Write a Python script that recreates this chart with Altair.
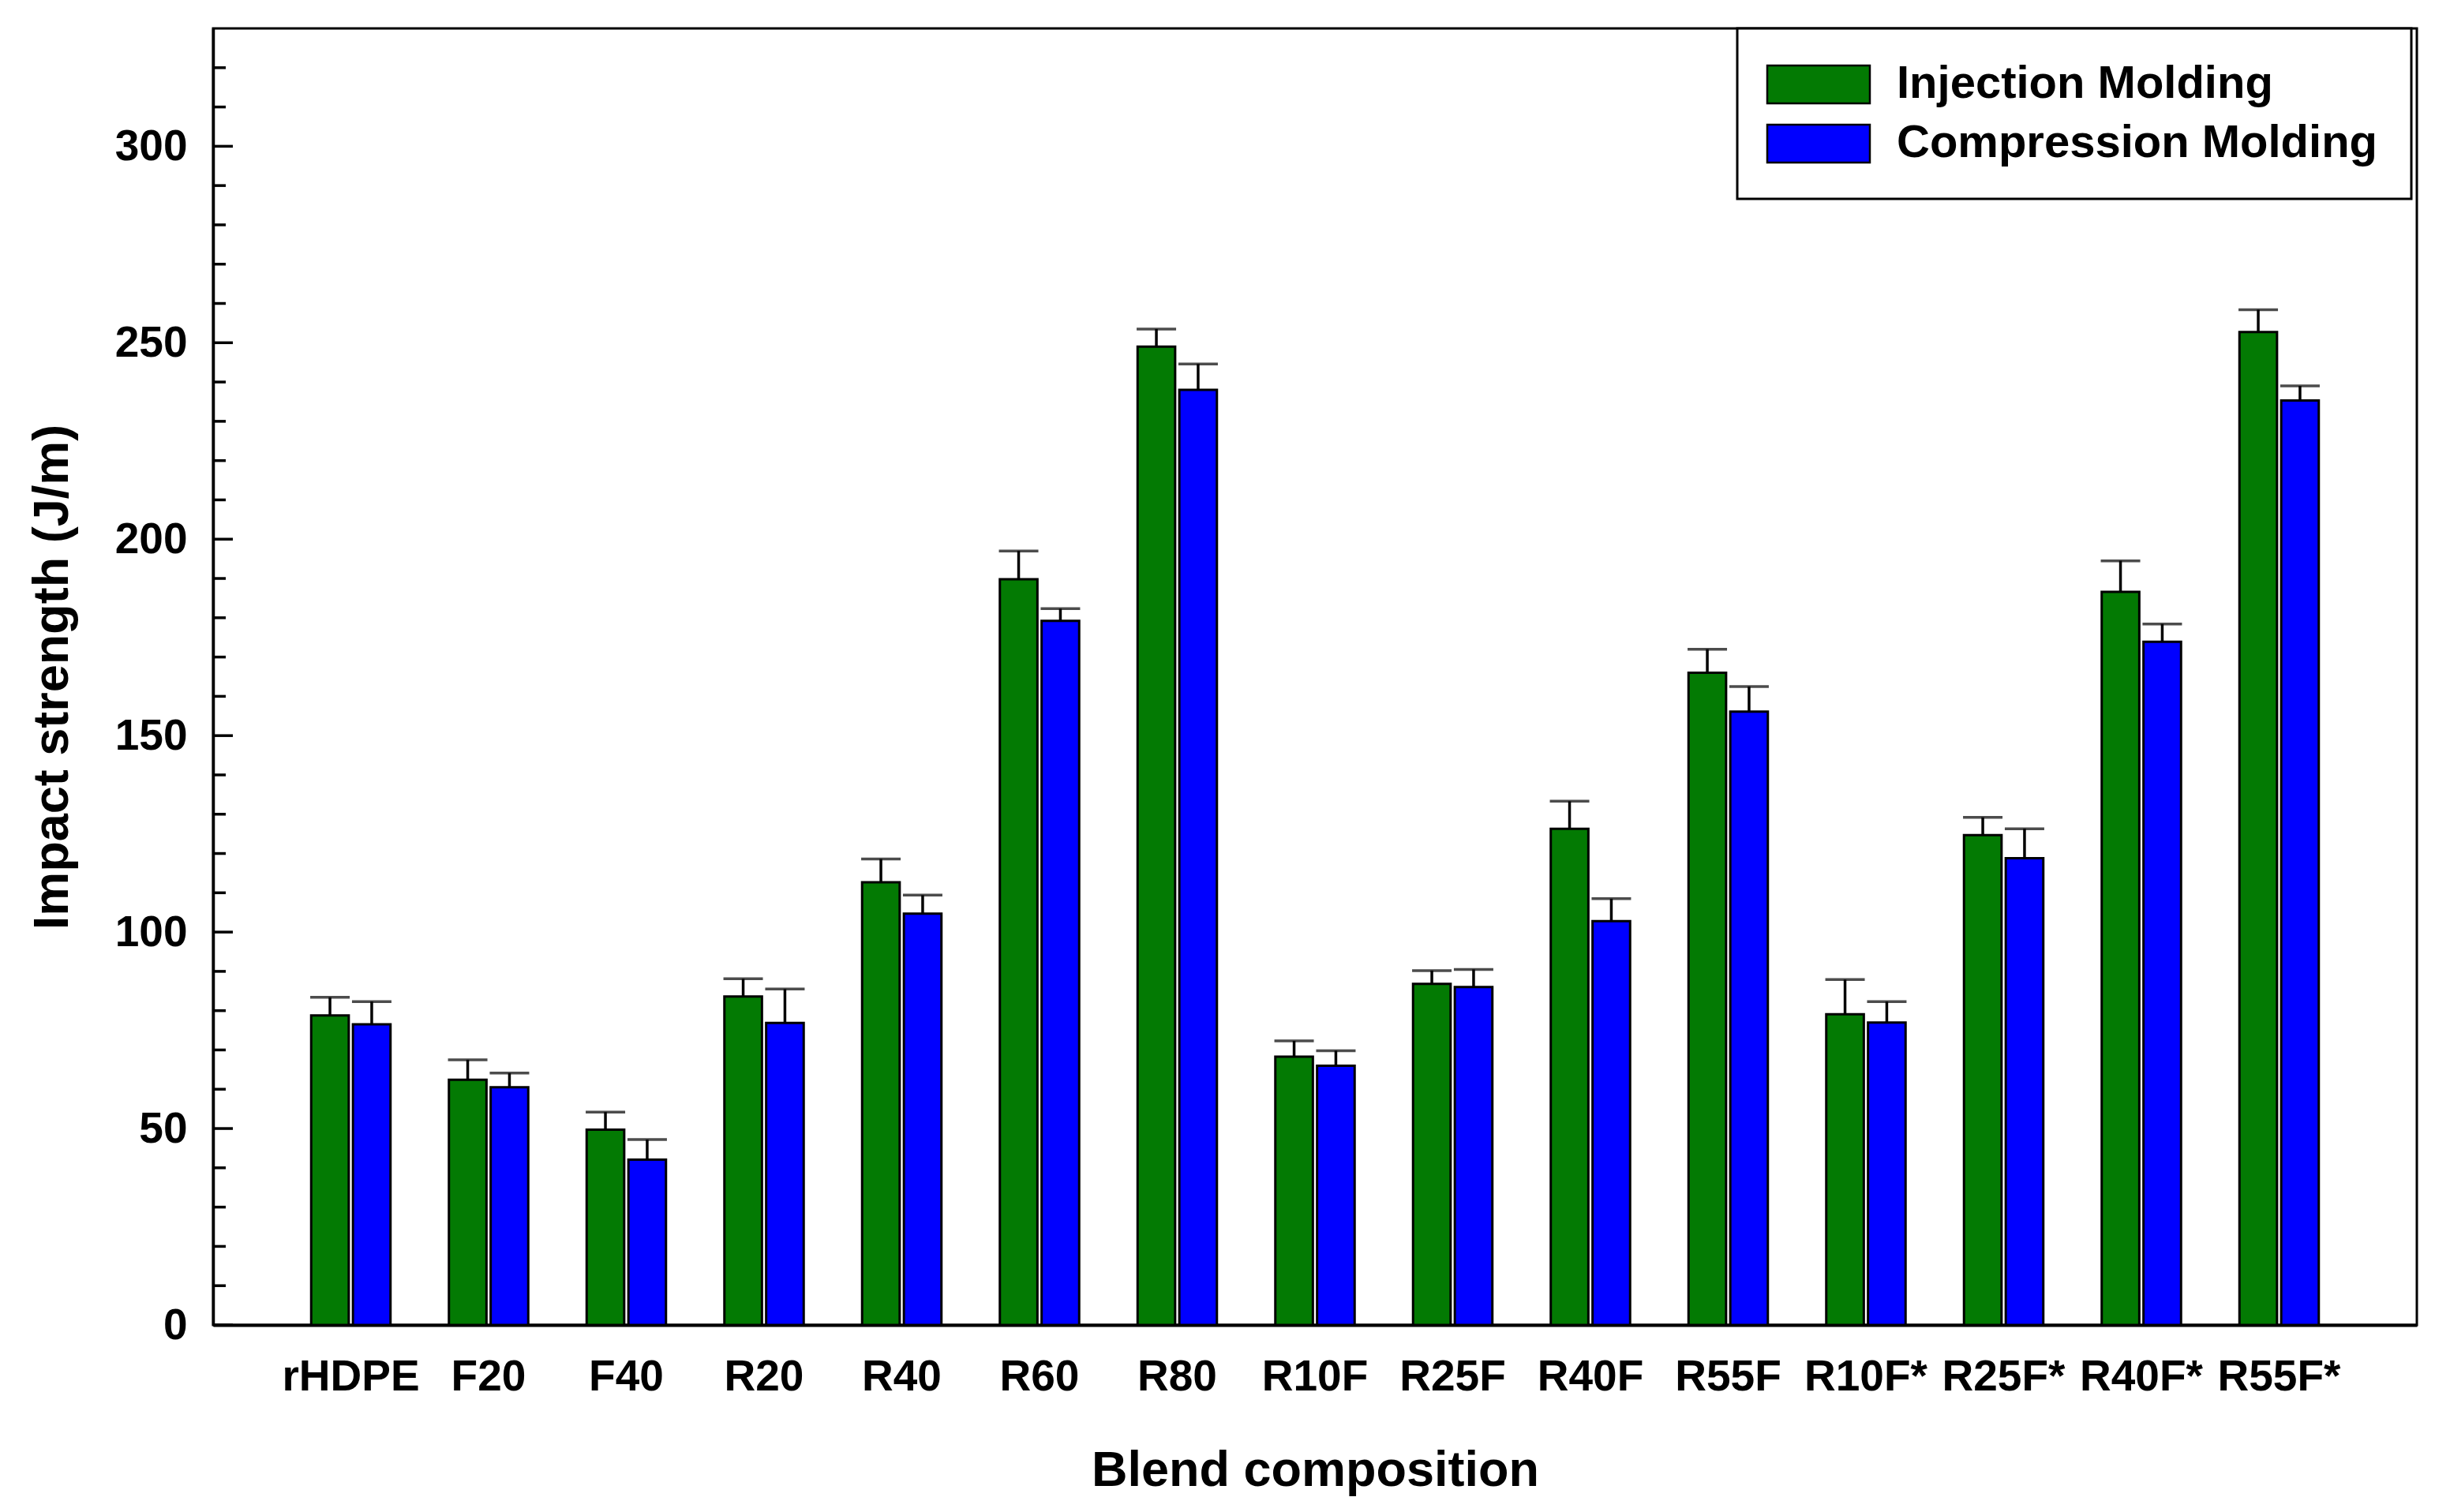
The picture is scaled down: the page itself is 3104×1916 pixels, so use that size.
import altair as alt
import pandas as pd

categories = ["rHDPE", "F20", "F40", "R20", "R40", "R60", "R80", "R10F", "R25F",
              "R40F", "R55F", "R10F*", "R25F*", "R40F*", "R55F*"]
series_names = ["Injection Molding", "Compression Molding"]
injection = [78.8, 62.4, 49.7, 83.6, 112.7, 189.8, 249.0, 68.3, 86.8, 126.3, 166.0, 79.1, 124.7, 186.6, 252.7]
injection_err = [4.6, 5.1, 4.5, 4.5, 5.9, 7.2, 4.5, 4.0, 3.4, 7.0, 6.0, 8.8, 4.5, 7.9, 5.7]
compression = [76.5, 60.5, 42.1, 76.9, 104.7, 179.2, 238.0, 66.0, 86.0, 102.8, 156.1, 77.0, 118.8, 173.9, 235.3]
compression_err = [5.8, 3.6, 5.1, 8.6, 4.7, 3.1, 6.6, 3.8, 4.5, 5.7, 6.4, 5.3, 7.5, 4.5, 3.7]
colors = ["#037A03", "#0000FF"]
y_labels = [0, 50, 100, 150, 200, 250, 300]
major_ticks = [0, 50, 100, 150, 200, 250, 300]
minor_ticks = [v for v in range(10, 330, 10) if v % 50 != 0]

rows = []
for i, c in enumerate(categories):
    rows.append(dict(cat=c, series=series_names[0], value=injection[i], top=injection[i] + injection_err[i]))
    rows.append(dict(cat=c, series=series_names[1], value=compression[i], top=compression[i] + compression_err[i]))
df = pd.DataFrame(rows)

W, H = 2792, 1643
FONT = "Liberation Sans"

xscale = alt.Scale(domain=categories, paddingInner=0.424, paddingOuter=0.712)
yscale = alt.Scale(domain=[0, 330], nice=False, zero=True)
off = alt.XOffset("series:N", scale=alt.Scale(domain=series_names, paddingInner=0.1), sort=series_names)
color = alt.Color("series:N", scale=alt.Scale(domain=series_names, range=colors), legend=None)

x_axis = alt.Axis(title="Blend composition", labelAngle=0, ticks=False, tickSize=0,
                  labelFont=FONT, labelFontSize=55, labelFontWeight="bold", labelColor="black",
                  labelPadding=39, titleFont=FONT, titleFontSize=63, titleFontWeight="bold",
                  titleColor="black", titleY=184, titleBaseline="middle",
                  domainColor="black", domainWidth=4)
y_axis = alt.Axis(title="Impact strength (J/m)", values=y_labels, ticks=False, tickSize=0, grid=False,
                  labelFont=FONT, labelFontSize=55, labelFontWeight="bold", labelColor="black",
                  labelPadding=33, titleFont=FONT, titleFontSize=63, titleFontWeight="bold",
                  titleColor="black", titleX=-204, titleY=H / 2, titleAngle=270,
                  titleBaseline="middle", titleAlign="center",
                  domainColor="black", domainWidth=3.5)

X = alt.X("cat:N", scale=xscale, sort=categories, axis=x_axis)

bars = alt.Chart(df).mark_bar(stroke="black", strokeWidth=3).encode(
    x=X,
    xOffset=off,
    y=alt.Y("value:Q", scale=yscale, axis=y_axis),
    color=color,
)
err = alt.Chart(df).mark_rule(color="black", strokeWidth=3.5).encode(
    x=X,
    xOffset=off,
    y=alt.Y("value:Q", scale=yscale, axis=y_axis),
    y2="top:Q",
)
cap = alt.Chart(df).mark_tick(color="black", thickness=3.5, size=50).encode(
    x=X,
    xOffset=off,
    y=alt.Y("top:Q", scale=yscale, axis=y_axis),
)

tick_major = alt.Chart(pd.DataFrame({"v": major_ticks})).mark_rule(color="black", strokeWidth=3.5).encode(
    y=alt.Y("v:Q", scale=yscale, axis=y_axis), x=alt.value(0), x2=alt.value(25))
tick_minor = alt.Chart(pd.DataFrame({"v": minor_ticks})).mark_rule(color="black", strokeWidth=3.5).encode(
    y=alt.Y("v:Q", scale=yscale, axis=y_axis), x=alt.value(0), x2=alt.value(16))

one = pd.DataFrame({"a": [0]})
legend_box = alt.Chart(one).mark_rect(fill="white", stroke="black", strokeWidth=3).encode(
    x=alt.value(1931), x2=alt.value(2785), y=alt.value(0), y2=alt.value(216))
legend_layers = [legend_box]
row_y = [71, 146]
for i, name in enumerate(series_names):
    legend_layers.append(alt.Chart(one).mark_rect(fill=colors[i], stroke="black", strokeWidth=2.5).encode(
        x=alt.value(1969), x2=alt.value(2099), y=alt.value(row_y[i] - 24), y2=alt.value(row_y[i] + 24)))
    legend_layers.append(alt.Chart(one).mark_text(text=name, font=FONT, fontSize=58, fontWeight="bold",
                                                  align="left", baseline="middle", color="black").encode(
        x=alt.value(2133), y=alt.value(row_y[i])))

chart = alt.layer(bars, err, cap, tick_major, tick_minor, *legend_layers).properties(
    width=W, height=H,
    background="white",
    autosize=alt.AutoSizeParams(type="none"),
    padding={"left": 262, "top": 28, "right": 20, "bottom": 232},
).configure_view(stroke="black", strokeWidth=3)

chart.save("out.html", embed_options={"renderer": "svg", "actions": False})
